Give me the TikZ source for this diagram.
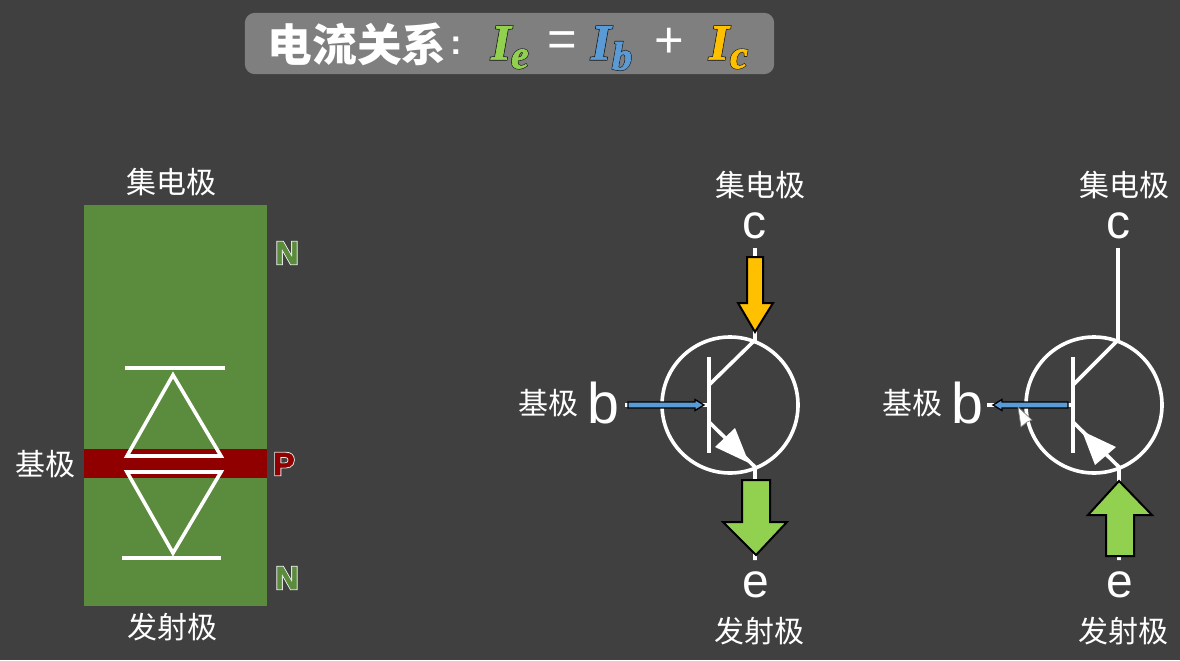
\documentclass[tikz,border=0pt]{standalone}
\usepackage{fontspec}
\setmainfont{Liberation Sans}
\newfontfamily\cjk{Noto Sans CJK SC}
\newfontfamily\mathfont{Liberation Serif}
\usetikzlibrary{positioning,arrows.meta}
\definecolor{bgdark}{HTML}{404040}
\definecolor{titlegray}{HTML}{7F7F7F}
\definecolor{regiongreen}{HTML}{5B8B3C}
\definecolor{regionred}{HTML}{900000}
\definecolor{iegreen}{HTML}{92D050}
\definecolor{ibblue}{HTML}{5B9BD5}
\definecolor{icyellow}{HTML}{FFC000}
% text with a stroked edge behind it: stroke rgb, stroke width, fill colour, text
\newcommand{\edged}[4]{\rlap{\special{pdf:code 2 Tr #2 w #1 RG #1 rg}#4\special{pdf:code 0 Tr}}{\color{#3}\special{pdf:code 2 Tr 0.5 w}#4\special{pdf:code 0 Tr}}}

\begin{document}
\begin{tikzpicture}[x=0.75pt, y=-0.75pt, >=Stealth,
    wire/.style={draw=white, line width=2.7pt, line join=miter},
    ring/.style={draw=white, circle, line width=2.7pt, minimum size=102pt, inner sep=0pt},
    label/.style={text=white, font=\cjk\fontsize{22.5}{24}\selectfont, inner sep=0pt},
    pin/.style={text=white, font=\fontsize{43}{44}\selectfont, inner sep=0pt},
    smallpin/.style={text=white, font=\fontsize{36}{38}\selectfont, inner sep=0pt},
    region/.style={font=\bfseries\fontsize{24}{26}\selectfont, inner sep=0pt},
    current/.style={draw=black, line width=1.5pt, line join=miter},
    baseflow/.style={draw=black, line width=1pt, fill=ibblue, line join=miter},
    formula/.style={font=\mathfont\bfseries\itshape\fontsize{38}{40}\selectfont, inner sep=0pt},
    subformula/.style={font=\mathfont\bfseries\itshape\fontsize{30}{32}\selectfont, inner sep=0pt},
    operator/.style={text=white, font=\fontsize{38}{40}\selectfont, inner sep=0pt}]

  \fill[bgdark] (0,0) rectangle (1180,660);
  \useasboundingbox (0,0) rectangle (1180,660);

  % title
  \node[fill=titlegray, rounded corners=7.5pt, minimum width=397pt, minimum height=46pt, inner sep=0pt] (titlebox) at (509.5,43.5) {};
  \node[text=white, font=\cjk\bfseries\fontsize{33.5}{35}\selectfont, inner sep=0pt] (titletext) at (357,44) {电流关系};
  \node[text=white, font=\bfseries\fontsize{26}{28}\selectfont, inner sep=0pt] (titlecolon) at (456,46) {:};
  \node[formula] (ie) at (501,43) {\edged{0.1 0.1 0.1}{1.6}{iegreen}{I}};
  \node[subformula] (iesub) at (520,59) {\edged{0.1 0.1 0.1}{1.4}{iegreen}{e}};
  \node[operator] (equals) at (562,44) {=};
  \node[formula] (ib) at (601,43) {\edged{0.1 0.1 0.1}{1.6}{ibblue}{I}};
  \node[subformula] (ibsub) at (622,56) {\edged{0.1 0.1 0.1}{1.4}{ibblue}{b}};
  \node[operator] (plus) at (669,43) {+};
  \node[formula] (ic) at (719,43) {\edged{0.1 0.1 0.1}{1.6}{icyellow}{I}};
  \node[subformula] (icsub) at (739,59) {\edged{0.1 0.1 0.1}{1.4}{icyellow}{c}};

  % left: layers
  \fill[regiongreen] (84,205) rectangle (267,606);
  \fill[regionred] (84,449) rectangle (267,478);
  \node[label] (collector) at (171,182) {集电极};
  \node[label] (base) at (46,464) {基极};
  \node[label] (emitter) at (172,627) {发射极};
  \node[region] (ntop) at (287,253) {\edged{0.95 0.95 0.95}{1.8}{regiongreen}{N}};
  \node[region] (pmid) at (284,464) {\edged{0.95 0.95 0.95}{1.8}{regionred}{P}};
  \node[region] (nbot) at (287,578) {\edged{0.95 0.95 0.95}{1.8}{regiongreen}{N}};
  \draw[wire] (125,368) -- (225,368);
  \draw[wire] (173,375) -- (221,456) -- (127,456) -- cycle;
  \draw[wire] (127,472) -- (221,472) -- (173,553) -- cycle;
  \draw[wire] (122,558) -- (221,558);

  % middle transistor
  \node[ring] (npnA) at (730,405) {};
  \coordinate (cA) at (755,248);
  \coordinate (cjoinA) at (755,340);
  \coordinate (ejoinA) at (755,467);
  \coordinate (eA) at (755,560);
  \coordinate (bA) at (625,405);
  \coordinate (barA) at (709,405);
  \draw[wire] (709,357) -- (709,453);
  \draw[wire] (cA) -- (cjoinA) -- (709,385);
  \draw[wire] (eA) -- (ejoinA) -- (709,422);
  \draw[wire] (bA) -- (barA);
  \fill[white] (749,463) -- (735,428) -- (715,447) -- cycle;
  \draw[current, fill=icyellow] (747,257) -- (763,257) -- (763,303) -- (773,303) -- (755,332) -- (738,303) -- (747,303) -- cycle;
  \draw[current, fill=iegreen] (742,480) -- (770,480) -- (770,522) -- (787,522) -- (756,555) -- (723,522) -- (742,522) -- cycle;
  \draw[baseflow] (628,402) -- (695,402) -- (695,399.5) -- (704,405) -- (695,410.5) -- (695,408) -- (628,408) -- cycle;
  \node[smallpin] (cpinA) at (754,226) {c};
  \node[pin] (bpinA) at (603,403) {b};
  \node[smallpin] (epinA) at (756,585) {e};
  \node[label] (collectorA) at (760,185) {集电极};
  \node[label, left=6pt of bpinA] (baseA) {基极};
  \node[label] (emitterA) at (759,631) {发射极};

  % right transistor
  \node[ring] (npnB) at (1094,405) {};
  \coordinate (cB) at (1118,248);
  \coordinate (cjoinB) at (1118,340);
  \coordinate (ejoinB) at (1119,467);
  \coordinate (eB) at (1119,560);
  \coordinate (bB) at (987,405);
  \coordinate (barB) at (1073,405);
  \draw[wire] (1073,357) -- (1073,453);
  \draw[wire] (cB) -- (cjoinB) -- (1073,385);
  \draw[wire] (eB) -- (ejoinB) -- (1073,422);
  \draw[wire] (bB) -- (barB);
  \fill[white] (1082,431) -- (1116,447) -- (1095,465) -- cycle;
  \draw[current, fill=iegreen] (1119,481) -- (1152,515) -- (1134,515) -- (1134,556) -- (1106,556) -- (1106,515) -- (1088,515) -- cycle;
  \draw[baseflow] (1068,402) -- (1002,402) -- (1002,399.5) -- (993,405) -- (1002,410.5) -- (1002,408) -- (1068,408) -- cycle;
  \draw[draw=black!50, line width=0.5pt, fill=white] (1018,407) -- (1032,420) -- (1027,422) -- (1021,427) -- cycle;
  \node[smallpin] (cpinB) at (1118,226) {c};
  \node[pin] (bpinB) at (967,403) {b};
  \node[smallpin] (epinB) at (1120,585) {e};
  \node[label] (collectorB) at (1124,185) {集电极};
  \node[label, left=6pt of bpinB] (baseB) {基极};
  \node[label] (emitterB) at (1123,631) {发射极};
\end{tikzpicture}
\end{document}
